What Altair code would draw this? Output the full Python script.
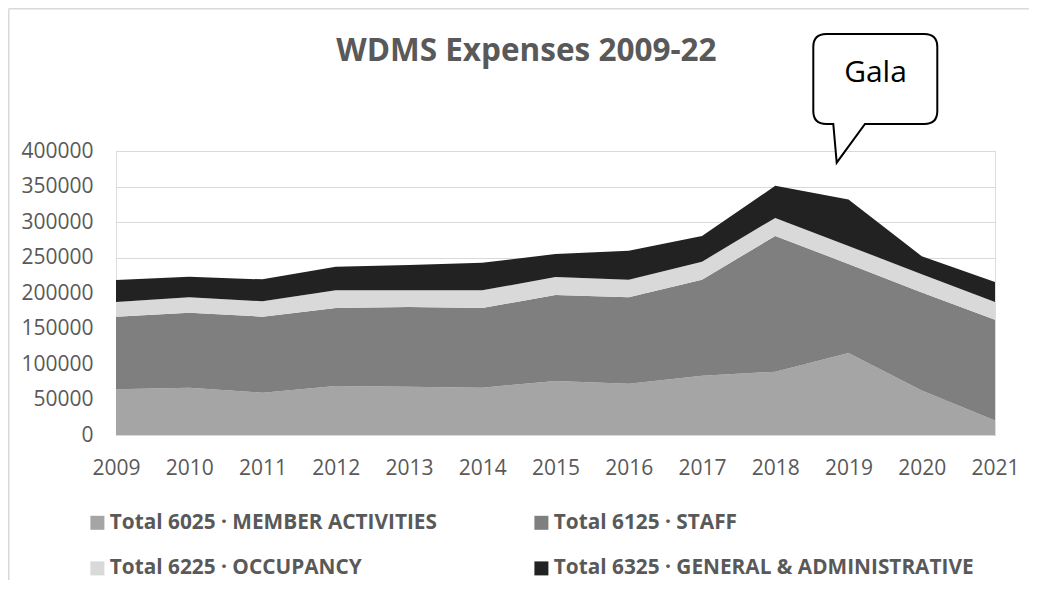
import altair as alt
import pandas as pd

# ---- data ----
years = [2009, 2010, 2011, 2012, 2013, 2014, 2015, 2016, 2017, 2018, 2019, 2020, 2021]
member_activities = [64400, 66700, 59600, 69000, 68000, 66700, 76100, 72300, 83500, 89100, 115400, 62800, 20500]
staff = [102200, 105600, 107000, 109900, 112300, 112200, 121100, 121600, 135200, 191300, 125500, 137800, 142000]
occupancy = [20700, 21600, 21700, 24900, 23500, 24900, 25300, 24800, 25400, 25400, 25400, 25800, 24800]
general_admin = [31000, 29100, 30900, 33300, 35600, 38900, 32400, 40900, 36200, 45100, 65400, 25400, 28200]

series_names = [
    "Total 6025 · MEMBER ACTIVITIES",
    "Total 6125 · STAFF",
    "Total 6225 · OCCUPANCY",
    "Total 6325 · GENERAL & ADMINISTRATIVE",
]
series_colors = ["#a5a5a5", "#7f7f7f", "#d9d9d9", "#222222"]
y_ticks = [0, 50000, 100000, 150000, 200000, 250000, 300000, 350000, 400000]
chart_title = "WDMS Expenses 2009-22"
callout_text = "Gala"

rows = []
for i, (name, vals) in enumerate(zip(series_names, [member_activities, staff, occupancy, general_admin])):
    for yr, v in zip(years, vals):
        rows.append({"year": str(yr), "series": name, "value": v, "order": i})
df = pd.DataFrame(rows)

FONT = "Open Sans"
TXT = "#595959"
GRID = "#d9d9d9"

PL, PT, PR, PB = 108, 143, 34, 145
W, H = 879, 284

area = alt.Chart(df).mark_area(opacity=1).encode(
    x=alt.X(
        "year:O",
        scale=alt.Scale(type="point", padding=0),
        axis=alt.Axis(
            title=None, labelAngle=0, grid=False, ticks=False, domain=True,
            domainColor=GRID, domainWidth=1, labelFont=FONT, labelFontSize=21,
            labelColor=TXT, labelPadding=22,
        ),
    ),
    y=alt.Y(
        "value:Q",
        stack="zero",
        scale=alt.Scale(domain=[0, 400000], nice=False),
        axis=alt.Axis(
            title=None, values=y_ticks, format="d", grid=True, gridColor=GRID,
            gridWidth=1, ticks=False, domain=False, labelFont=FONT,
            labelFontSize=21, labelColor=TXT, labelPadding=23,
        ),
    ),
    color=alt.Color(
        "series:N",
        scale=alt.Scale(domain=series_names, range=series_colors),
        legend=alt.Legend(
            title=None, orient="none", legendX=-29, legendY=361, columns=2,
            direction="horizontal",
            symbolType="square", symbolSize=196, symbolStrokeWidth=0,
            symbolOpacity=1,
            labelFont=FONT, labelFontSize=20.8, labelFontWeight="bold",
            labelColor=TXT, labelOffset=2, labelLimit=800,
            rowPadding=24, columnPadding=94, padding=0,
        ),
    ),
    order=alt.Order("order:Q", sort="ascending"),
)

title_df = pd.DataFrame({"t": [chart_title]})
title_mark = alt.Chart(title_df).mark_text(
    font=FONT, fontSize=31.5, fontWeight="bold", color=TXT,
    align="center", baseline="alphabetic",
).encode(text="t:N", x=alt.value(526.4 - 116), y=alt.value(61 - 151))

# speech-bubble callout (shape in normalized [-1, 1] coordinates)
bubble_path = (
    "M -0.7615 -1 L 0.7615 -1 Q 0.9635 -1 0.9635 -0.798 "
    "L 0.9635 0.1966 Q 0.9635 0.3986 0.7615 0.3986 "
    "L -0.160 0.3986 L -0.600 1 L -0.6527 0.3986 "
    "L -0.7615 0.3986 Q -0.9635 0.3986 -0.9635 0.1966 "
    "L -0.9635 -0.798 Q -0.9635 -1 -0.7615 -1 Z"
)
callout_df = pd.DataFrame({"label": [callout_text]})
bubble = alt.Chart(callout_df).mark_point(
    shape=bubble_path, size=16563, filled=True, fill="white",
    stroke="black", strokeWidth=2, opacity=1, strokeOpacity=1, fillOpacity=1,
).encode(x=alt.value(875.3 - 116), y=alt.value(98.35 - 151))
bubble_text = alt.Chart(callout_df).mark_text(
    font=FONT, fontSize=30, color="black", align="center", baseline="alphabetic",
).encode(text="label:N", x=alt.value(875.5 - 116), y=alt.value(82 - 151))

# chart-area border (left and top edges), kept inside the drawing
border_left = alt.Chart(title_df).mark_rule(color=GRID, strokeWidth=1.5).encode(
    x=alt.value(0.75 - PL), y=alt.value(0.75 - PT), y2=alt.value(H + PB)
)
border_top = alt.Chart(title_df).mark_rule(color=GRID, strokeWidth=1.5).encode(
    x=alt.value(0.75 - PL), x2=alt.value(W + PR), y=alt.value(0.75 - PT)
)

chart = alt.layer(
    border_left, border_top, area, title_mark, bubble, bubble_text
).properties(
    width=W, height=H,
    padding={"left": PL, "top": PT, "right": PR, "bottom": PB},
    autosize=alt.AutoSizeParams(type="none"),
).configure_view(stroke="transparent", strokeWidth=0).configure(background="white")

chart.save("out.html", embed_options={"renderer": "svg", "actions": False})
